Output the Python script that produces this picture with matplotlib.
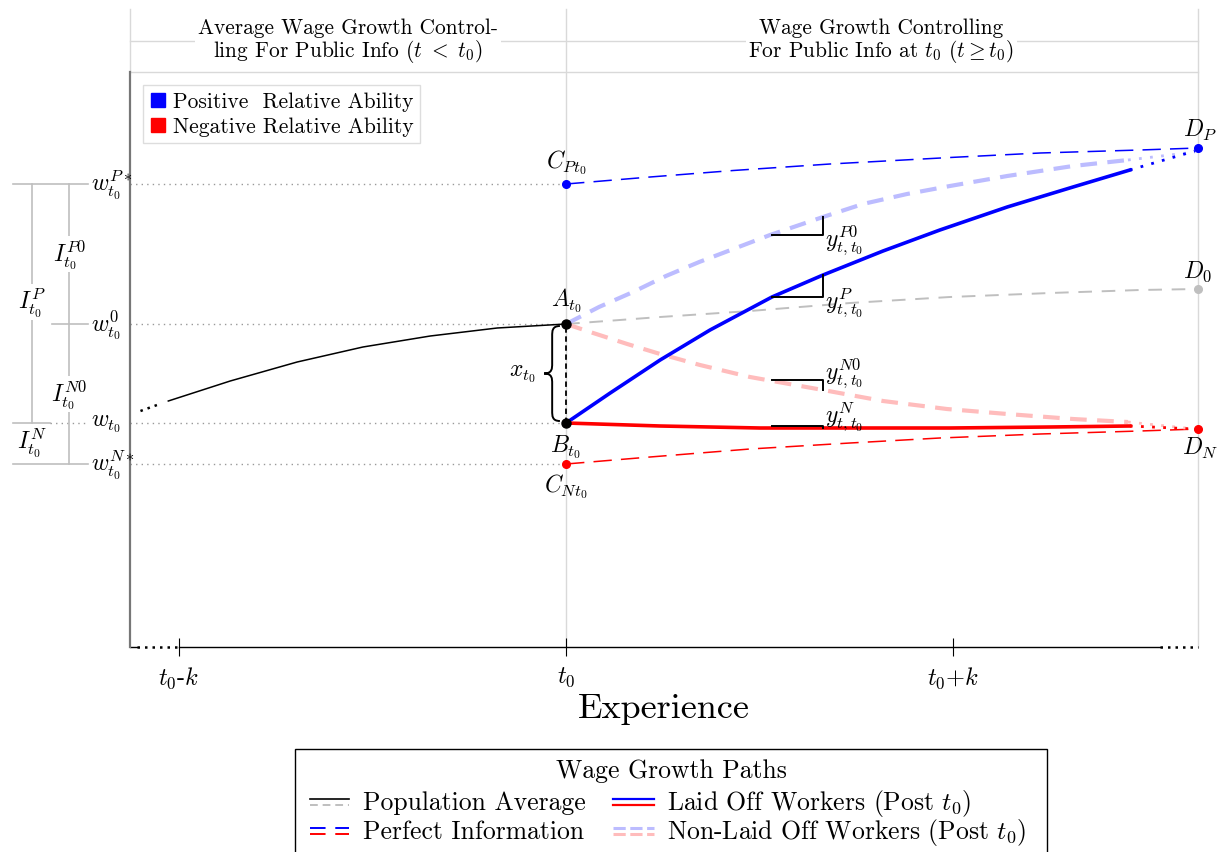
import matplotlib
matplotlib.use("Agg")
import matplotlib.pyplot as plt
from matplotlib.lines import Line2D
from matplotlib.path import Path
from matplotlib.patches import PathPatch, Rectangle

plt.rcParams['font.family'] = 'serif'
plt.rcParams['font.serif'] = ['cmr10']
plt.rcParams['mathtext.fontset'] = 'cm'
plt.rcParams['axes.unicode_minus'] = False
plt.rcParams['lines.solid_joinstyle'] = 'round'
plt.rcParams['lines.dash_joinstyle'] = 'round'

# experience in units of k around t0, wage in arbitrary units
pop_pre_x = [-1.028, -0.868, -0.695, -0.525, -0.351, -0.178, 0.0]
pop_pre_y = [2.46, 2.66, 2.85, 3.00, 3.11, 3.19, 3.23]
pop_post_x = [0.0, 0.243, 0.475, 0.734, 0.992, 1.251, 1.483, 1.633]
pop_post_y = [3.23, 3.30, 3.36, 3.44, 3.50, 3.54, 3.57, 3.58]

perf_p_x = [0.0, 0.217, 0.432, 0.682, 0.992, 1.225, 1.483, 1.633]
perf_p_y = [4.63, 4.70, 4.765, 4.83, 4.895, 4.94, 4.97, 4.99]
perf_n_x = [0.0, 0.217, 0.475, 0.734, 0.966, 1.225, 1.483, 1.633]
perf_n_y = [1.83, 1.90, 1.98, 2.04, 2.09, 2.13, 2.16, 2.18]

nonlaid_p_x = [0.0, 0.085, 0.173, 0.258, 0.344, 0.439, 0.527, 0.664, 0.767,
               0.881, 0.992, 1.140, 1.310, 1.452]
nonlaid_p_y = [3.23, 3.40, 3.55, 3.71, 3.85, 3.99, 4.12, 4.30, 4.43,
               4.53, 4.61, 4.71, 4.81, 4.87]
laid_p_x = [0.0, 0.114, 0.243, 0.372, 0.532, 0.664, 0.819, 0.966, 1.140, 1.310, 1.457]
laid_p_y = [2.24, 2.54, 2.87, 3.17, 3.50, 3.72, 3.96, 4.17, 4.40, 4.60, 4.77]
nonlaid_n_x = [0.0, 0.070, 0.158, 0.243, 0.346, 0.475, 0.664, 0.819, 0.984, 1.140, 1.310, 1.452]
nonlaid_n_y = [3.23, 3.14, 3.03, 2.93, 2.82, 2.70, 2.57, 2.46, 2.38, 2.33, 2.28, 2.25]
laid_n_x = [0.0, 0.243, 0.501, 0.734, 0.992, 1.251, 1.457]
laid_n_y = [2.24, 2.21, 2.19, 2.19, 2.19, 2.20, 2.21]

# wage levels at t0 and end points
w_pstar, w_0, w_t0, w_nstar = 4.63, 3.23, 2.24, 1.83
D_P, D_0, D_N = 4.99, 3.58, 2.18
x_end = 1.633
x_left = -1.127

tick_pos = [-1.0, 0.0, 1.0]
tick_lab = ['$t_0$-$k$', '$t_0$', '$t_0$+$k$']

BLUE = '#0000ff'
RED = '#ff0000'
LBLUE = '#bcbcff'
LRED = '#ffbcbc'
GRAY = '#bfbfbf'
LGRID = '#d9d9d9'

fig = plt.figure(figsize=(12.17, 8.53), dpi=100)
ax = fig.add_axes([130/1217, 1-648/853, 1068/1217, 575/853])
ax.set_xlim(x_left, x_end)
ax.set_ylim(0, 5.75)
for s in ['top', 'right', 'bottom']:
    ax.spines[s].set_visible(False)
ax.spines['left'].set_color('#777777')
ax.spines['left'].set_linewidth(1.6)
ax.set_yticks([])
ax.set_xticks(tick_pos)
ax.set_xticklabels(tick_lab, fontsize=17.5)
ax.tick_params(axis='x', direction='inout', length=13, width=0.8, pad=6)
ax.set_xlabel('Experience', fontsize=26, labelpad=2)

# header and vertical guides
top_y, mid_y = 6.38, 6.06
for xv in [0.0, x_end]:
    ax.plot([xv, xv], [0, top_y], color=LGRID, lw=1, clip_on=False, zorder=0)
ax.plot([x_left, x_left], [5.75, top_y], color=LGRID, lw=1, clip_on=False)
ax.plot([x_left, x_end], [5.75, 5.75], color=LGRID, lw=1, clip_on=False)
ax.plot([x_left, x_end], [mid_y, mid_y], color=LGRID, lw=1, clip_on=False)
ax.text(-0.563, mid_y, 'Average Wage Growth Control-\nling For Public Info ($t\\ <\\ t_0$)',
        ha='center', va='center', fontsize=15.4, linespacing=1.0,
        bbox=dict(facecolor='white', edgecolor='none', pad=2))
ax.text(0.814, mid_y, 'Wage Growth Controlling\nFor Public Info at $t_0$ ($t\\geq t_0$)',
        ha='center', va='center', fontsize=15.4, linespacing=1.0,
        bbox=dict(facecolor='white', edgecolor='none', pad=2))

# bottom axis line with dotted ends
ax.plot([x_left, -1.11], [0, 0], color='black', lw=1, clip_on=False)
ax.plot([-1.11, -1.0], [0, 0], color='black', lw=1.8, ls=(0, (1, 2)), clip_on=False)
ax.plot([-1.0, 1.535], [0, 0], color='black', lw=1, clip_on=False)
ax.plot([1.535, x_end], [0, 0], color='black', lw=1.8, ls=(0, (1, 2)), clip_on=False)

# dotted reference levels
for yv in [w_pstar, w_0, w_t0, w_nstar]:
    ax.plot([x_left, 0], [yv, yv], color='#999999', lw=1, ls=(0, (1, 3)))

# curves
ax.plot(pop_pre_x, pop_pre_y, color='black', lw=1.1)
ax.plot([-1.10, -1.05], [2.36, 2.43], color='black', lw=1.8, ls=(0, (1, 2)))
ax.plot(pop_post_x, pop_post_y, color=GRAY, lw=1.4, ls=(0, (7, 5)))
ax.plot(perf_p_x, perf_p_y, color=BLUE, lw=1.1, ls=(0, (12, 6)))
ax.plot(perf_n_x, perf_n_y, color=RED, lw=1.1, ls=(0, (12, 6)))
ax.plot(nonlaid_p_x, nonlaid_p_y, color=LBLUE, lw=3, ls=(0, (4, 2.5)))
ax.plot(nonlaid_n_x, nonlaid_n_y, color=LRED, lw=3, ls=(0, (4, 2.5)))
ax.plot(laid_p_x, laid_p_y, color=BLUE, lw=2.6)
ax.plot(laid_n_x, laid_n_y, color=RED, lw=2.6)
# dotted continuations to D
ax.plot([nonlaid_p_x[-1], 1.625], [nonlaid_p_y[-1], 4.95], color=LBLUE, lw=2, ls=(0, (1, 3)))
ax.plot([laid_p_x[-1], 1.625], [laid_p_y[-1], 4.96], color=BLUE, lw=2, ls=(0, (1, 3)))
ax.plot([nonlaid_n_x[-1], 1.625], [nonlaid_n_y[-1], 2.18], color=LRED, lw=2, ls=(0, (1, 3)))
ax.plot([laid_n_x[-1], 1.625], [laid_n_y[-1], 2.18], color=RED, lw=2, ls=(0, (1, 3)))

# A-B dashed link
ax.plot([0, 0], [w_t0, w_0], color='black', lw=1.3, ls=(0, (3, 2)))

# points
ax.plot([0, 0], [w_0, w_t0], 'o', color='black', ms=6.5, zorder=5)
ax.plot([0], [w_pstar], 'o', color=BLUE, ms=5.5, zorder=5)
ax.plot([0], [w_nstar], 'o', color=RED, ms=5.5, zorder=5)
ax.plot([x_end], [D_P], 'o', color=BLUE, ms=5.5, zorder=5, clip_on=False)
ax.plot([x_end], [D_0], 'o', color=GRAY, ms=5.5, zorder=5, clip_on=False)
ax.plot([x_end], [D_N], 'o', color=RED, ms=5.5, zorder=5, clip_on=False)

fs = 17
ax.text(0, w_0 + 0.1, '$A_{t_0}$', ha='center', va='bottom', fontsize=fs)
ax.text(0, w_t0 - 0.1, '$B_{t_0}$', ha='center', va='top', fontsize=fs)
ax.text(0, w_pstar + 0.08, '$C_{Pt_0}$', ha='center', va='bottom', fontsize=fs)
ax.text(0, w_nstar - 0.08, '$C_{Nt_0}$', ha='center', va='top', fontsize=fs)
ax.text(x_end + 0.005, D_P + 0.06, '$D_P$', ha='center', va='bottom', fontsize=fs)
ax.text(x_end, D_0 + 0.06, '$D_0$', ha='center', va='bottom', fontsize=fs)
ax.text(x_end + 0.005, D_N - 0.06, '$D_N$', ha='center', va='top', fontsize=fs)

# brackets for y terms
bx0, bx1 = 0.532, 0.664
brackets = [(4.12, 4.30, '$y^{P0}_{t,t_0}$', 4.08),
            (3.50, 3.72, '$y^{P}_{t,t_0}$', 3.45),
            (2.67, 2.57, '$y^{N0}_{t,t_0}$', 2.75),
            (2.21, 2.19, '$y^{N}_{t,t_0}$', 2.31)]
for yh, yv, lab, yl in brackets:
    ax.plot([bx0, bx1, bx1], [yh, yh, yv], color='black', lw=1.4, zorder=6)
    ax.text(bx1 + 0.005, yl, lab, ha='left', va='center', fontsize=fs)

# curly brace for x_t0
xr, xm, xl = -0.016, -0.036, -0.057
yt, yb = w_0 - 0.02, w_t0 + 0.02
ym = (yt + yb) / 2
d = 0.1
verts = [(xr, yt), (xm, yt), (xm, yt - d / 2), (xm, yt - d),
         (xm, ym + d),
         (xm, ym + d / 2), (xm, ym), (xl, ym),
         (xm, ym), (xm, ym - d / 2), (xm, ym - d),
         (xm, yb + d),
         (xm, yb + d / 2), (xm, yb), (xr, yb)]
codes = [Path.MOVETO, Path.CURVE4, Path.CURVE4, Path.CURVE4,
         Path.LINETO,
         Path.CURVE4, Path.CURVE4, Path.CURVE4,
         Path.CURVE4, Path.CURVE4, Path.CURVE4,
         Path.LINETO,
         Path.CURVE4, Path.CURVE4, Path.CURVE4]
ax.add_patch(PathPatch(Path(verts, codes), facecolor='none', edgecolor='black', lw=1.4))
ax.text(-0.114, 2.74, '$x_{t_0}$', ha='center', va='center', fontsize=fs)

# left margin: wage labels and information gaps
xa, xb, xc, xd, xe = -1.43, -1.38, -1.333, -1.284, -1.235
for yv in [w_pstar, w_nstar]:
    ax.plot([xa, xe], [yv, yv], color=GRAY, lw=1.2, clip_on=False)
ax.plot([-1.328, xe], [w_0, w_0], color=GRAY, lw=1.2, clip_on=False)
ax.plot([xa, xc], [w_t0, w_t0], color=GRAY, lw=1.2, clip_on=False)
ax.plot([xc, xe], [w_t0, w_t0], color='#999999', lw=1, ls=(0, (1, 3)), clip_on=False)
ax.plot([xb, xb], [w_t0, w_pstar], color=GRAY, lw=1.2, clip_on=False)
ax.plot([xd, xd], [w_nstar, w_pstar], color=GRAY, lw=1.2, clip_on=False)
wlabels = [(w_pstar, '$w^{P*}_{t_0}$'), (w_0, '$w^{0}_{t_0}$'),
           (w_t0, '$w_{t_0}$'), (w_nstar, '$w^{N*}_{t_0}$')]
for yv, lab in wlabels:
    ax.text(-1.228, yv, lab, ha='left', va='center', fontsize=fs, clip_on=False)
box = dict(facecolor='white', edgecolor='none', pad=1)
ax.text(xb, 3.45, '$I^{P}_{t_0}$', ha='center', va='center', fontsize=fs, bbox=box)
ax.text(xd, 3.93, '$I^{P0}_{t_0}$', ha='center', va='center', fontsize=fs, bbox=box)
ax.text(xd, 2.53, '$I^{N0}_{t_0}$', ha='center', va='center', fontsize=fs, bbox=box)
ax.text(xb, 2.05, '$I^{N}_{t_0}$', ha='center', va='center', fontsize=fs)

# ability legend
ab_handles = [Line2D([], [], marker='s', ls='none', color=BLUE, ms=10.5),
              Line2D([], [], marker='s', ls='none', color=RED, ms=10.5)]
ax.legend(ab_handles, ['Positive  Relative Ability', 'Negative Relative Ability'],
          loc='upper left', bbox_to_anchor=(0.012, 0.977), fontsize=15.5,
          frameon=True, fancybox=False, edgecolor='#dddddd', framealpha=1,
          handlelength=0.8, handletextpad=0.3, borderpad=0.3, labelspacing=0.25,
          borderaxespad=0)

# wage growth paths legend, drawn by hand so both columns share rows
def fx(px):
    return px / 1217


def fy(py):
    return 1 - py / 853


fig.add_artist(Rectangle((fx(295), -0.05), fx(1047) - fx(295), fy(750) + 0.05,
                         transform=fig.transFigure, facecolor='white',
                         edgecolor='black', lw=1))
fig.text(fx(671), fy(778), 'Wage Growth Paths', ha='center', va='baseline', fontsize=18.5)

path_labels = ['Population Average', 'Perfect Information',
               'Laid Off Workers (Post $t_0$)', 'Non-Laid Off Workers (Post $t_0$)']
path_styles = [
    [dict(color='black', lw=1.2, ls='-'), dict(color=GRAY, lw=1.4, ls=(0, (4, 2.5)))],
    [dict(color=BLUE, lw=1.4, ls=(0, (8, 5))), dict(color=RED, lw=1.4, ls=(0, (8, 5)))],
    [dict(color=BLUE, lw=1.6, ls='-'), dict(color=RED, lw=1.6, ls='-')],
    [dict(color=LBLUE, lw=2.2, ls=(0, (4, 1.5))), dict(color=LRED, lw=2.2, ls=(0, (4, 1.5)))],
]
handle_x = [(310, 349), (310, 349), (613, 654), (613, 654)]
text_x = [363, 363, 667, 667]
row_mid = [803, 832, 803, 832]
for lab, sty, (h0, h1), tx, rm in zip(path_labels, path_styles, handle_x, text_x, row_mid):
    for st, off in zip(sty, [-3.2, 3.2]):
        fig.add_artist(Line2D([fx(h0), fx(h1)], [fy(rm + off)] * 2,
                              transform=fig.transFigure, **st))
    fig.text(fx(tx), fy(rm + 7.5), lab, ha='left', va='baseline', fontsize=18.5)

fig.savefig('out.png', dpi=100)
